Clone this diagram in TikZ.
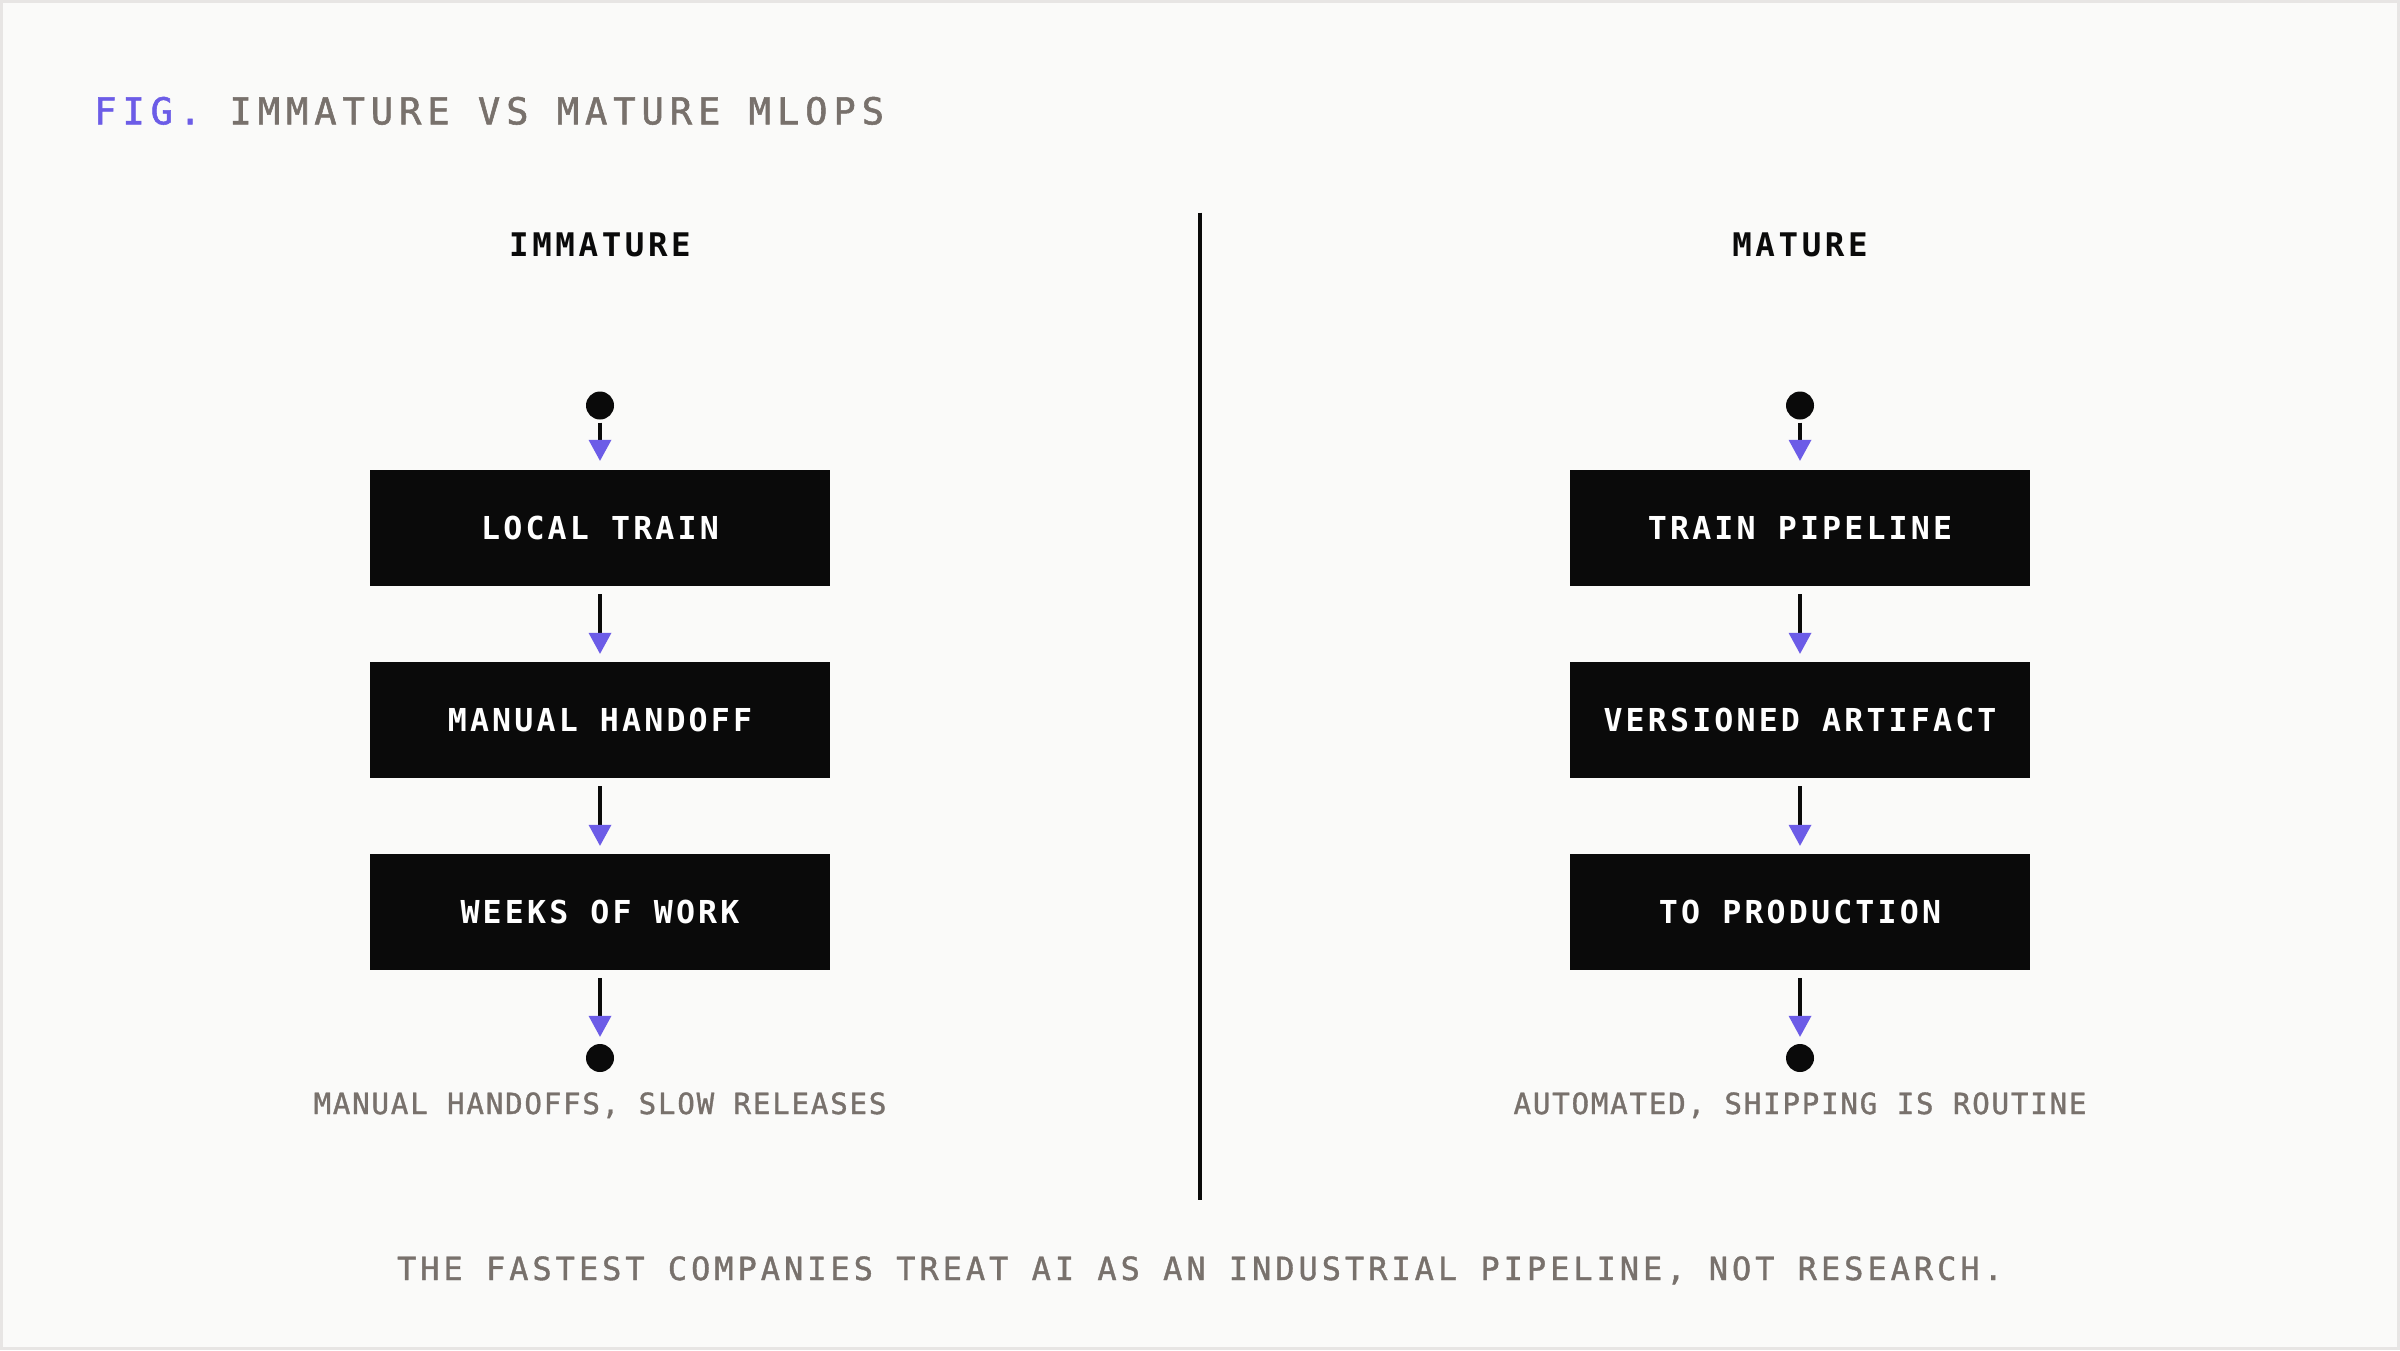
\documentclass[tikz,border=0pt]{standalone}
\usepackage{fontspec}
\usetikzlibrary{arrows.meta}
\newfontfamily\ttlfont[LetterSpace=16.2,FakeBold=1.5]{DejaVu Sans Mono}
\newfontfamily\hdfont[LetterSpace=11]{DejaVu Sans Mono}
\newfontfamily\boxfont[LetterSpace=10]{DejaVu Sans Mono}
\newfontfamily\capfont[LetterSpace=6,FakeBold=1.2]{DejaVu Sans Mono}
\newfontfamily\ftfont[LetterSpace=12.4,FakeBold=1.2]{DejaVu Sans Mono}
\definecolor{bgc}{HTML}{FAFAF9}
\definecolor{borderc}{HTML}{E7E5E4}
\definecolor{inkc}{HTML}{0A0A0A}
\definecolor{greyc}{HTML}{78716C}
\definecolor{accentc}{HTML}{6C5CE7}
\begin{document}
\begin{tikzpicture}[x=1pt,y=-1pt,
  stepbox/.style={fill=inkc, minimum width=460pt, minimum height=116pt, inner sep=0pt,
    text=white, font={\boxfont\bfseries\fontsize{31.6pt}{38pt}\selectfont}, text height=23pt, text depth=0pt},
  dotnode/.style={circle, fill=inkc, minimum size=28pt, inner sep=0pt},
  arr/.style={draw=inkc, line width=4pt,
    -{Triangle[length=21pt, width=23pt, line width=0pt, color=accentc, fill=accentc]}},
  headtxt/.style={anchor=base, inner sep=0pt, text=inkc, font={\hdfont\bfseries\fontsize{32.5pt}{39pt}\selectfont}},
  captxt/.style={anchor=base, inner sep=0pt, text=greyc, font={\capfont\fontsize{29.2pt}{35pt}\selectfont}},
  foottxt/.style={anchor=base, inner sep=0pt, text=greyc, font={\ftfont\fontsize{32pt}{38pt}\selectfont}}
]
\fill[bgc] (0,0) rectangle (2400,1350);
\draw[borderc, line width=3pt] (1.5,1.5) rectangle (2398.5,1348.5);
\useasboundingbox (0,0) rectangle (2400,1350);

% title
\node[anchor=base west, inner sep=0pt, font={\ttlfont\fontsize{37pt}{44pt}\selectfont}] (title) at (94,124.3)
  {\textcolor{accentc}{FIG.} \textcolor{greyc}{IMMATURE VS MATURE MLOPS}};

% divider
\coordinate (vt) at (1200,212.5);
\coordinate (vb) at (1200,1200);
\draw[inkc, line width=4pt] (vt) -- (vb);

% headers
\node[headtxt] (hl) at (600,256) {IMMATURE};
\node[headtxt] (hr) at (1800,256) {MATURE};

% left column
\node[dotnode] (ld0) at (600,405.5) {};
\node[stepbox] (l1) at (600,528) {LOCAL TRAIN};
\node[stepbox] (l2) at (600,720) {MANUAL HANDOFF};
\node[stepbox] (l3) at (600,912) {WEEKS OF WORK};
\node[dotnode] (ld1) at (600,1058) {};
\draw[arr, shorten <=3pt, shorten >=9pt] (ld0) -- (l1);
\draw[arr, shorten <=8pt, shorten >=8pt] (l1) -- (l2);
\draw[arr, shorten <=8pt, shorten >=8pt] (l2) -- (l3);
\draw[arr, shorten <=8pt, shorten >=7pt] (l3) -- (ld1);
\node[captxt] (lc) at (600,1114) {MANUAL HANDOFFS, SLOW RELEASES};

% right column
\node[dotnode] (rd0) at (1800,405.5) {};
\node[stepbox] (r1) at (1800,528) {TRAIN PIPELINE};
\node[stepbox] (r2) at (1800,720) {VERSIONED ARTIFACT};
\node[stepbox] (r3) at (1800,912) {TO PRODUCTION};
\node[dotnode] (rd1) at (1800,1058) {};
\draw[arr, shorten <=3pt, shorten >=9pt] (rd0) -- (r1);
\draw[arr, shorten <=8pt, shorten >=8pt] (r1) -- (r2);
\draw[arr, shorten <=8pt, shorten >=8pt] (r2) -- (r3);
\draw[arr, shorten <=8pt, shorten >=7pt] (r3) -- (rd1);
\node[captxt] (rc) at (1800,1114) {AUTOMATED, SHIPPING IS ROUTINE};

% footer
\node[foottxt] (ft) at (1200,1280) {THE FASTEST COMPANIES TREAT AI AS AN INDUSTRIAL PIPELINE, NOT RESEARCH.};
\end{tikzpicture}
\end{document}
